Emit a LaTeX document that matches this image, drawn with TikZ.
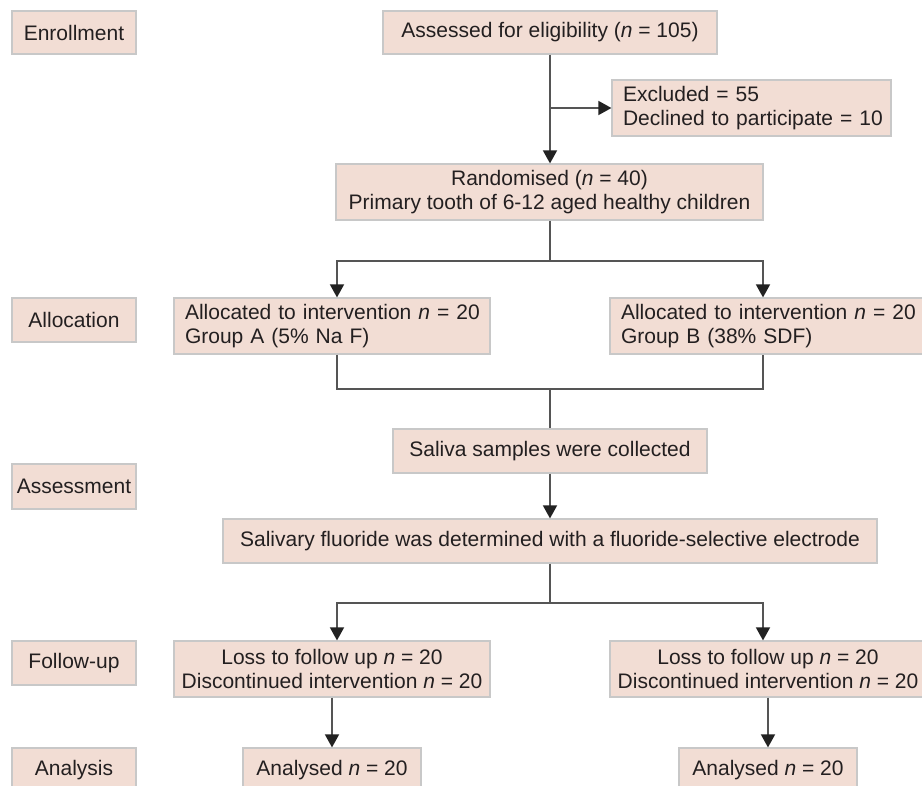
\documentclass[tikz,border=0pt]{standalone}
\usepackage{fontspec}
\setmainfont{Liberation Sans}
\usetikzlibrary{arrows.meta}
\definecolor{boxfill}{HTML}{F2DDD4}
\definecolor{boxline}{HTML}{C8C8C8}
\definecolor{connc}{HTML}{555555}
\definecolor{tipc}{HTML}{222222}
\definecolor{txtc}{HTML}{231F20}
\begin{document}
\begin{tikzpicture}[x=1pt,y=-1pt,
  box/.style={draw=boxline, fill=boxfill, line width=1.2pt, inner sep=0pt, text=txtc,
    font=\fontsize{21}{24}\selectfont},
  lbox/.style={box, align=left, inner xsep=11pt},
  cbox/.style={box, align=center},
  conn/.style={draw=connc, line width=1.6pt},
  arr/.style={conn, -{Triangle[width=14pt,length=13pt,color=tipc]}}]
\clip (0,0) rectangle (922,786);
\fill[white] (0,0) rectangle (922,786);
% stage labels
\node[cbox, minimum width=124pt, minimum height=43pt] (enr) at (74,32.5) {Enrollment};
\node[cbox, minimum width=124pt, minimum height=44pt] (alloc) at (74,320) {Allocation};
\node[cbox, minimum width=124pt, minimum height=45pt] (assess) at (74,486.5) {Assessment};
\node[cbox, minimum width=124pt, minimum height=44pt] (fu) at (74,663) {Follow-up};
\node[cbox, minimum width=124pt, minimum height=44pt] (ana) at (74,770) {Analysis};
% flow boxes
\node[cbox, minimum width=334pt, minimum height=43pt] (assessed) at (550,32.5) {Assessed for eligibility (\textit{n} = 105)};
\node[lbox, text width=257pt, minimum height=56pt] (excluded) at (751.5,108) {\mbox{Excluded = 55}\\\mbox{Declined to participate = 10}};
\node[cbox, minimum width=427pt, minimum height=56pt] (random) at (549.5,192) {Randomised (\textit{n} = 40)\\Primary tooth of 6-12 aged healthy children};
\node[lbox, text width=294pt, minimum height=56pt] (allocA) at (332,326) {\mbox{Allocated to intervention \textit{n} = 20}\\\mbox{Group A (5\% Na F)}};
\node[lbox, text width=294pt, minimum height=56pt] (allocB) at (768,326) {\mbox{Allocated to intervention \textit{n} = 20}\\\mbox{Group B (38\% SDF)}};
\node[cbox, minimum width=314pt, minimum height=44pt] (saliva) at (550,451) {Saliva samples were collected};
\node[cbox, minimum width=654pt, minimum height=44pt] (fluoride) at (550,541) {Salivary fluoride was determined with a fluoride-selective electrode};
\node[cbox, minimum width=316pt, minimum height=56pt] (followA) at (332,669) {Loss to follow up \textit{n} = 20\\Discontinued intervention \textit{n} = 20};
\node[cbox, minimum width=316pt, minimum height=56pt] (followB) at (768,669) {Loss to follow up \textit{n} = 20\\Discontinued intervention \textit{n} = 20};
\node[cbox, minimum width=178pt, minimum height=44pt] (anaA) at (332,770) {Analysed \textit{n} = 20};
\node[cbox, minimum width=178pt, minimum height=44pt] (anaB) at (768,770) {Analysed \textit{n} = 20};
% connectors
\coordinate (ex) at (550,108);
\draw[arr] (assessed.south -| ex) -- (ex |- random.north);
\draw[arr] (ex) -- (excluded.west);
\coordinate (r1) at (550,261);
\coordinate (sA) at (337,261);
\coordinate (sB) at (763,261);
\draw[conn] (random.south -| r1) -- (r1);
\draw[arr] (r1) -- (sA) -- (sA |- allocA.north);
\draw[arr] (r1) -- (sB) -- (sB |- allocB.north);
\coordinate (m) at (550,389);
\coordinate (mA) at (337,389);
\coordinate (mB) at (763,389);
\draw[conn] (mA |- allocA.south) -- (mA) -- (mB) -- (mB |- allocB.south);
\draw[conn] (m) -- (m |- saliva.north);
\draw[arr] (saliva) -- (fluoride);
\coordinate (f) at (550,603);
\coordinate (fA) at (337,603);
\coordinate (fB) at (763,603);
\draw[conn] (fluoride.south) -- (f);
\draw[arr] (f) -- (fA) -- (fA |- followA.north);
\draw[arr] (f) -- (fB) -- (fB |- followB.north);
\draw[arr] (followA) -- (anaA);
\draw[arr] (followB) -- (anaB);
\end{tikzpicture}
\end{document}
